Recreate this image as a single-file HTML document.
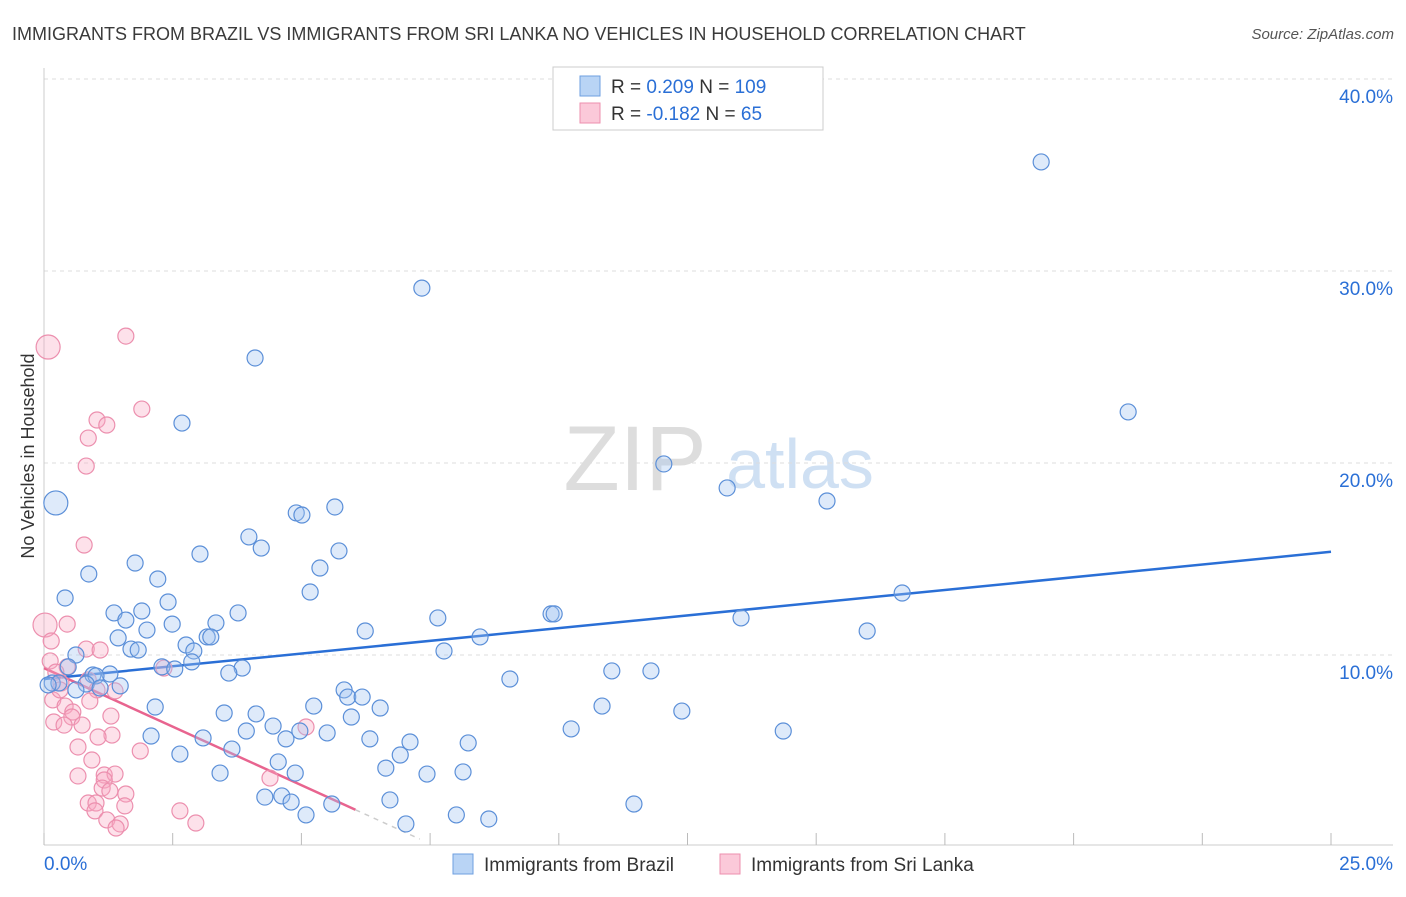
<!DOCTYPE html>
<html><head><meta charset="utf-8"><style>
body{margin:0;background:#fff;font-family:"Liberation Sans",sans-serif;}
svg text{font-family:"Liberation Sans",sans-serif;}
</style></head><body>
<svg id="chart" width="1406" height="892" xmlns="http://www.w3.org/2000/svg">
<text x="12" y="40" font-size="18" fill="#3a3a3a">IMMIGRANTS FROM BRAZIL VS IMMIGRANTS FROM SRI LANKA NO VEHICLES IN HOUSEHOLD CORRELATION CHART</text>
<text x="1394" y="39" font-size="15" fill="#555" text-anchor="end" font-style="italic">Source: ZipAtlas.com</text>
<g>
<text x="635" y="490" font-size="92" fill="#ddd" text-anchor="middle" font-family="Liberation Serif">ZIP</text>
<text x="800" y="488" font-size="70" fill="#cfe0f3" text-anchor="middle">atlas</text>
</g>
<text transform="translate(34,456) rotate(-90)" font-size="18" fill="#333" text-anchor="middle">No Vehicles in Household</text>
<g id="grid"></g>
<g id="axes"></g>
<g id="trend"></g>
<g id="points"></g>
<g>
<rect x="553" y="67" width="270" height="63" fill="#fff" stroke="#ccc"/>
<rect x="580" y="76" width="20" height="20" fill="#b9d4f5" stroke="#6e9fe0"/>
<rect x="580" y="103" width="20" height="20" fill="#fbc9d9" stroke="#ec8fae"/>
<text x="611" y="93" font-size="19" fill="#333">R = <tspan fill="#2a6fd6">0.209</tspan>   N = <tspan fill="#2a6fd6">109</tspan></text>
<text x="611" y="120" font-size="19" fill="#333">R = <tspan fill="#2a6fd6">-0.182</tspan>   N = <tspan fill="#2a6fd6">  65</tspan></text>
</g>
<g>
<rect x="453" y="854" width="20" height="20" fill="#b9d4f5" stroke="#6e9fe0"/>
<text x="484" y="871" font-size="19" fill="#333">Immigrants from Brazil</text>
<rect x="720" y="854" width="20" height="20" fill="#fbc9d9" stroke="#ec8fae"/>
<text x="751" y="871" font-size="19" fill="#333">Immigrants from Sri Lanka</text>
</g>
</svg>
<script>
const yTicks=[10,20,30,40];
const yTickLabels=["10.0%","20.0%","30.0%","40.0%"];
const xTickValues=[0,2.5,5,7.5,10,12.5,15,17.5,20,22.5,25];
const xEndLabels=["0.0%","25.0%"];
const brazilX=[19.37,7.34,4.10,21.06,2.68,12.04,13.27,15.21,0.23,4.90,5.01,5.65,3.98,4.22,3.03,5.73,1.77,5.36,0.87,2.21,5.17,16.67,0.41,2.41,9.85,9.91,1.36,1.90,3.77,13.54,7.65,1.59,3.34,2.49,2.00,6.24,15.99,8.47,3.17,3.24,1.44,2.76,1.69,1.83,2.91,7.77,0.62,2.87,2.29,2.54,3.85,3.59,11.03,11.79,0.47,1.28,0.95,1.01,9.05,0.16,0.29,0.82,1.48,1.09,0.62,5.83,5.90,6.18,5.24,2.16,6.53,10.84,12.39,3.50,4.12,5.97,10.24,14.36,3.93,4.45,4.97,5.50,2.08,3.09,4.70,6.33,7.11,8.24,3.65,6.92,2.64,4.55,6.64,3.42,4.88,7.44,8.14,4.29,4.62,4.80,5.59,6.72,11.46,5.09,8.01,8.64,7.03,0.08];
const brazilY=[35.68,29.11,25.47,22.66,22.08,19.95,18.70,18.02,17.92,17.40,17.29,17.71,16.15,15.57,15.26,15.42,14.79,14.53,14.22,13.96,13.28,13.23,12.97,12.76,12.14,12.14,12.19,12.29,12.19,11.93,11.93,11.82,11.67,11.61,11.30,11.25,11.25,10.94,10.94,10.94,10.89,10.52,10.31,10.26,10.21,10.21,10.00,9.64,9.38,9.27,9.32,9.06,9.17,9.17,9.38,9.01,8.96,8.91,8.75,8.54,8.54,8.49,8.39,8.28,8.18,8.18,7.81,7.81,7.34,7.29,7.24,7.34,7.08,6.98,6.93,6.77,6.15,6.04,6.04,6.30,6.04,5.94,5.78,5.68,5.63,5.63,5.47,5.42,5.10,4.79,4.84,4.43,4.11,3.85,3.85,3.80,3.91,2.60,2.66,2.34,2.24,2.45,2.24,1.67,1.67,1.46,1.20,8.44];
const brazilBig=[0.23,17.92];
const lankaX=[1.59,0.08,1.90,1.03,1.22,0.86,0.82,0.78,0.02,0.45,0.14,0.82,1.09,0.12,0.45,2.33,0.23,0.86,0.33,1.03,1.38,0.17,0.89,0.41,0.56,0.54,1.30,0.19,0.39,0.74,5.09,1.32,1.05,0.66,1.87,0.93,4.39,0.66,1.17,1.38,1.17,1.13,1.28,1.59,0.86,1.01,1.57,0.99,2.64,1.22,1.48,1.40,2.95,0.31];
const lankaY=[26.61,26.04,22.81,22.24,21.98,21.30,19.84,15.73,11.56,11.61,10.73,10.31,10.26,9.69,9.38,9.32,9.11,8.70,8.54,8.18,8.13,7.66,7.60,7.34,7.03,6.77,6.82,6.51,6.35,6.35,6.25,5.83,5.73,5.21,5.00,4.53,3.59,3.70,3.75,3.80,3.49,3.07,2.92,2.76,2.29,2.29,2.14,1.88,1.88,1.41,1.20,0.99,1.25,8.18];
const brazilTrend=[8.75,0.265];   // intercept, slope
const lankaTrend=[9.32,-1.22];
const lankaSolidEnd=6.05, lankaDashEnd=7.3;

const NS="http://www.w3.org/2000/svg";
const sx=v=>44+v*51.48, sy=v=>847-v*19.2;
function mk(parent,tag,attrs){const e=document.createElementNS(NS,tag);for(const k in attrs)e.setAttribute(k,attrs[k]);document.getElementById(parent).appendChild(e);return e;}
yTicks.forEach((t,i)=>{
 const l=mk('grid','line',{x1:44,x2:1393,y1:sy(t),y2:sy(t),stroke:'#ddd','stroke-dasharray':'4,4'});
 
 
 const tx=mk('grid','text',{x:1393,y:sy(t)+24,'font-size':19,fill:'#2a6fd6','text-anchor':'end'});
 tx.textContent=yTickLabels[i];
 
 
});
let ax=mk('axes','line',{x1:44,x2:1393,y1:845,y2:845,stroke:'#ccc'});


let ay=mk('axes','line',{x1:44,x2:44,y1:68,y2:845,stroke:'#ccc'});


xTickValues.forEach(v=>{
 const t=mk('axes','line',{x1:sx(v),x2:sx(v),y1:833,y2:845,stroke:'#bbb'});
 
 
});
let xl0=mk('axes','text',{x:44,y:870,'font-size':19,fill:'#2a6fd6'});xl0.textContent=xEndLabels[0];


let xl1=mk('axes','text',{x:1393,y:870,'font-size':19,fill:'#2a6fd6','text-anchor':'end'});xl1.textContent=xEndLabels[1];


function dot(x,y,fill,stroke,r){const c=mk('points','circle',{cx:sx(x),cy:sy(y),r:r,fill:fill,stroke:stroke,'stroke-width':1.2});return c;}
lankaX.forEach((x,i)=>{const r=(i==1||i==8)?12:8;const c=dot(x,lankaY[i],'rgba(248,170,196,0.35)','#ec8fae',r);
 
 });
brazilX.forEach((x,i)=>{const big=(x===brazilBig[0]&&brazilY[i]===brazilBig[1]);const c=dot(x,brazilY[i],'rgba(160,196,240,0.35)','#5b8fd8',big?12:8);
 
 });
let bt=mk('trend','line',{x1:sx(0),y1:sy(brazilTrend[0]),x2:sx(25),y2:sy(brazilTrend[0]+25*brazilTrend[1]),stroke:'#2a6fd6','stroke-width':2.5});


let lt=mk('trend','line',{x1:sx(0),y1:sy(lankaTrend[0]),x2:sx(lankaSolidEnd),y2:sy(lankaTrend[0]+lankaSolidEnd*lankaTrend[1]),stroke:'#e8648f','stroke-width':2.5});


let ld=mk('trend','line',{x1:sx(lankaSolidEnd),y1:sy(lankaTrend[0]+lankaSolidEnd*lankaTrend[1]),x2:sx(lankaDashEnd),y2:sy(lankaTrend[0]+lankaDashEnd*lankaTrend[1]),stroke:'#ccc','stroke-width':1.5,'stroke-dasharray':'5,5'});


</script>
</body></html>
